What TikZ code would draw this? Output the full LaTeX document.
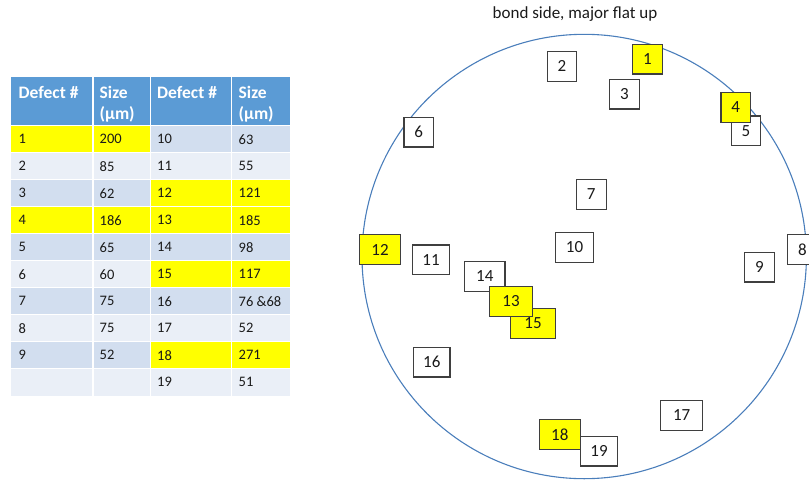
\documentclass[tikz,border=0pt]{standalone}
\usepackage{fontspec}
\setmainfont{Carlito}
\definecolor{hdr}{HTML}{5B9BD5}
\definecolor{rowA}{HTML}{D2DEEF}
\definecolor{rowB}{HTML}{EAEFF7}
\definecolor{ring}{HTML}{4A7EBB}
\definecolor{ink}{HTML}{1A1A1A}
\definecolor{boxline}{HTML}{3F3F3F}
\definecolor{hl}{HTML}{FFFF00}
\begin{document}
\begin{tikzpicture}[x=1pt,y=-1pt,
  dbox/.style={draw=boxline, line width=1.2pt, fill=white, minimum height=29.7pt,
    inner sep=0pt, text=ink, font=\fontsize{17}{20}\selectfont},
  ybox/.style={dbox, fill=hl},
  celltxt/.style={anchor=west, inner sep=0pt, text=ink, font=\fontsize{14.5}{17}\selectfont},
  hdrtxt/.style={anchor=base west, inner sep=0pt, text=white, font=\fontsize{17.5}{21}\selectfont\bfseries},
  gridline/.style={white, line width=1.4pt}]
\useasboundingbox (0,0) rectangle (809,480);
\clip (0,0) rectangle (809,480);

% ---------- table ----------
\fill[hdr] (11,77) rectangle (289.5,125.7);
\foreach \r in {1,...,10} {
  \pgfmathsetmacro\yt{125.7+27*(\r-1)}
  \pgfmathsetmacro\yb{\yt+27}
  \pgfmathtruncatemacro\odd{mod(\r,2)}
  \ifnum\odd=1 \fill[rowA] (11,\yt) rectangle (289.5,\yb);
  \else \fill[rowB] (11,\yt) rectangle (289.5,\yb); \fi
}
% yellow highlights (left pair: rows 1,4; right pair: rows 3,4,6,9)
\foreach \r in {1,4} {
  \pgfmathsetmacro\yt{125.7+27*(\r-1)}
  \pgfmathsetmacro\yb{\yt+27}
  \fill[hl] (11,\yt) rectangle (150.3,\yb);
}
\foreach \r in {3,4,6,9} {
  \pgfmathsetmacro\yt{125.7+27*(\r-1)}
  \pgfmathsetmacro\yb{\yt+27}
  \fill[hl] (150.3,\yt) rectangle (289.5,\yb);
}
\foreach \x in {93,150.3,231.7} \draw[gridline] (\x,77) -- (\x,395.7);
\foreach \r in {0,...,9} {
  \pgfmathsetmacro\yy{125.7+27*\r}
  \draw[gridline] (11,\yy) -- (289.5,\yy);
}
% header text
\node[hdrtxt] (h1) at (18.5,98.3) {Defect \#};
\node[hdrtxt] (h2a) at (99.5,98.3) {Size};
\node[hdrtxt] (h2b) at (99.5,119.5) {(µm)};
\node[hdrtxt] (h3) at (157,98.3) {Defect \#};
\node[hdrtxt] (h4a) at (238.5,98.3) {Size};
\node[hdrtxt] (h4b) at (238.5,119.5) {(µm)};
% body text
\foreach \r/\a/\b/\c/\d in {1/1/200/10/63, 2/2/85/11/55, 3/3/62/12/121, 4/4/186/13/185,
  5/5/65/14/98, 6/6/60/15/117, 7/7/75/16/{76 \&68}, 8/8/75/17/52, 9/9/52/18/271, 10/{}/{}/19/51} {
  \pgfmathsetmacro\ym{125.7+27*(\r-1)+13.5}
  \node[celltxt] (ta\r) at (18.5,\ym) {\a};
  \node[celltxt] (tb\r) at (99.5,\ym) {\b};
  \node[celltxt] (tc\r) at (157,\ym) {\c};
  \node[celltxt] (td\r) at (238.5,\ym) {\d};
}

% ---------- wafer ----------
\node[circle, draw=ring, line width=1.1pt, minimum size=444.4pt, inner sep=0pt] (wafer) at (584.2,256.5) {};
\node[inner sep=0pt, text=ink, font=\fontsize{17}{20}\selectfont] (title) at (575,14.5) {bond side, major flat up};

% ---------- defect boxes ----------
\node[ybox, minimum width=29.6pt] (d1) at (647.5,59.2) {1};
\node[dbox, minimum width=29.4pt] (d2) at (562,66.3) {2};
\node[dbox, minimum width=29.6pt] (d3) at (624.5,94.2) {3};
\node[dbox, minimum width=29.4pt] (d5) at (746,130.8) {5};
\node[ybox, minimum width=29.3pt] (d4) at (735.7,107.5) {4};
\node[dbox, minimum width=29.3pt] (d6) at (418.7,132.2) {6};
\node[dbox, minimum width=30pt] (d7) at (591.3,194.3) {7};
\node[dbox, minimum width=29.5pt] (d8) at (802.4,249.5) {8};
\node[dbox, minimum width=29.6pt] (d9) at (759.5,267.2) {9};
\node[dbox, minimum width=38.4pt] (d10) at (574.5,247.3) {10};
\node[dbox, minimum width=37.4pt] (d11) at (431,259.8) {11};
\node[ybox, minimum width=41.4pt] (d12) at (380,249.5) {12};
\node[dbox, minimum width=40.3pt] (d14) at (484.8,276.3) {14};
\node[ybox, minimum width=44.6pt] (d15) at (533,323.5) {15};
\node[ybox, minimum width=43.4pt] (d13) at (511,301.3) {13};
\node[dbox, minimum width=36.3pt] (d16) at (431.8,362.2) {16};
\node[dbox, minimum width=42pt] (d17) at (681.7,415.5) {17};
\node[dbox, minimum width=37.4pt] (d19) at (599,451.2) {19};
\node[ybox, minimum width=41pt] (d18) at (559.8,434.5) {18};
\end{tikzpicture}
\end{document}
